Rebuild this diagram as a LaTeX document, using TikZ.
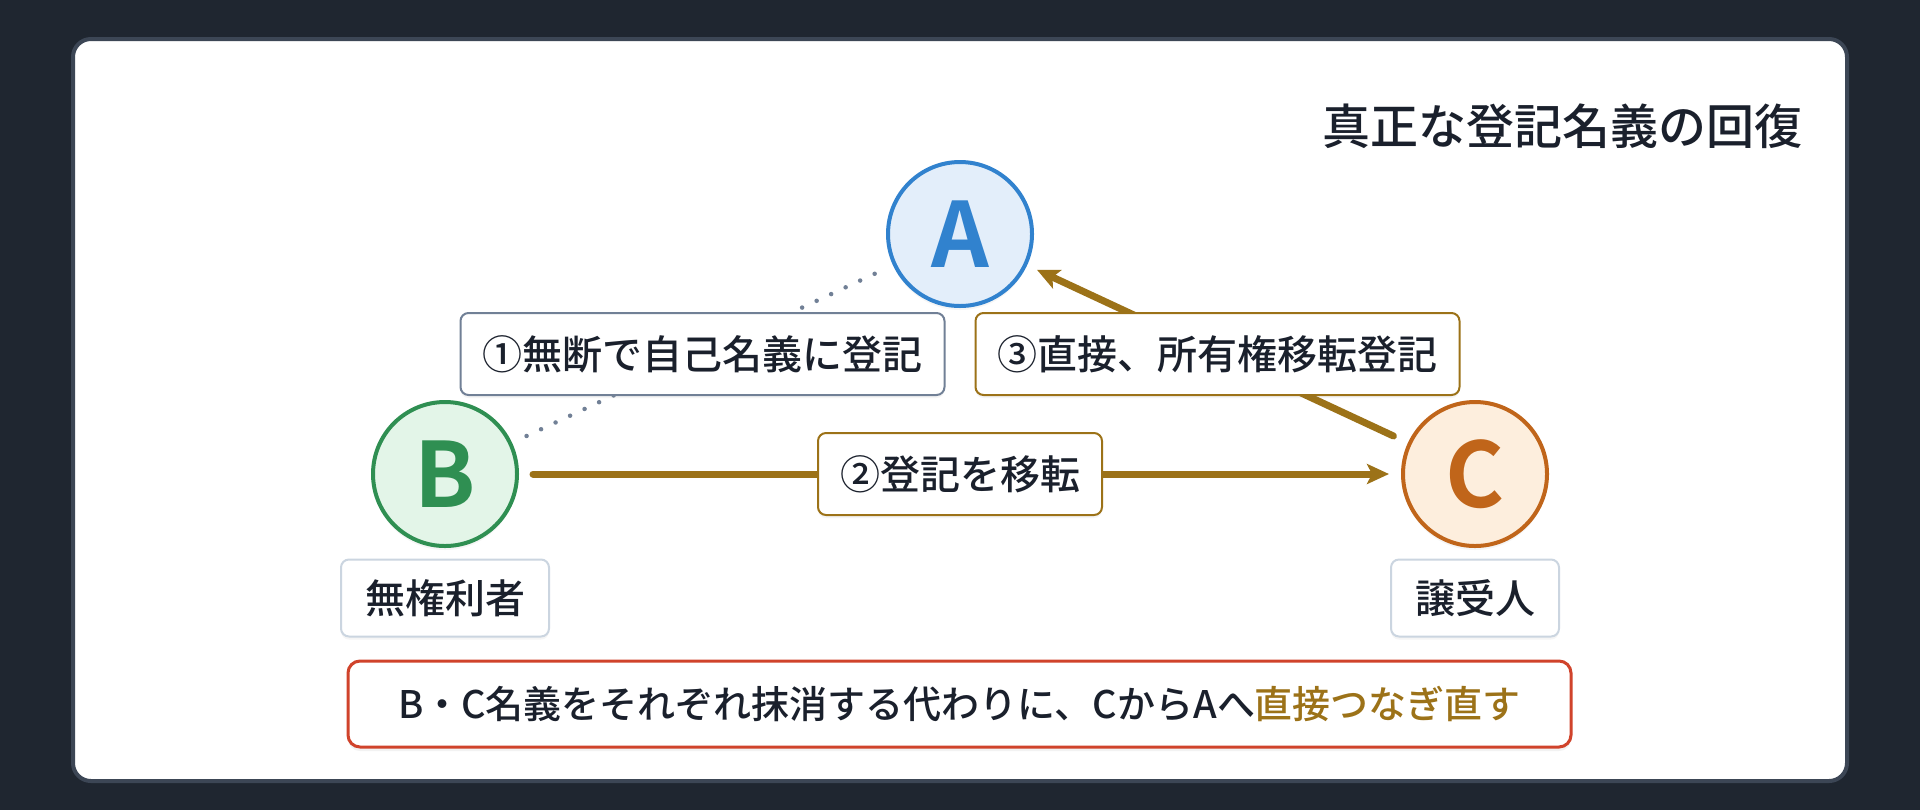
\documentclass[tikz,border=0pt]{standalone}
\usepackage{fontspec}
\setmainfont{Noto Sans CJK JP}[UprightFont=* Medium, BoldFont=* Bold]
\usetikzlibrary{arrows.meta,calc,shadows}

\definecolor{pagebg}{HTML}{1F2630}
\definecolor{cardline}{HTML}{3C4655}
\definecolor{ink}{HTML}{1A202C}
\definecolor{blueA}{HTML}{3182CE}
\definecolor{blueAfill}{HTML}{E3EEFA}
\definecolor{greenB}{HTML}{2F8F52}
\definecolor{greenBfill}{HTML}{E3F5E8}
\definecolor{orangeC}{HTML}{C0651A}
\definecolor{orangeCfill}{HTML}{FDEEDD}
\definecolor{gold}{HTML}{9C7218}
\definecolor{slate}{HTML}{718096}
\definecolor{paleline}{HTML}{CBD5E0}
\definecolor{alertred}{HTML}{D0432B}

\tikzset{
  party/.style={circle, line width=2pt, minimum size=72pt, inner sep=0pt,
    font=\bfseries\fontsize{45}{50}\selectfont,
    drop shadow={opacity=0.08, shadow xshift=0pt, shadow yshift=-2pt}},
  tag/.style={draw, fill=white, rounded corners=4pt, line width=1pt,
    inner xsep=11pt, inner ysep=0pt, minimum height=41pt, text=ink,
    font=\fontsize{20}{24}\selectfont,
    drop shadow={opacity=0.08, shadow xshift=0pt, shadow yshift=-1.5pt}},
  role/.style={tag, draw=paleline, minimum height=38.5pt, inner xsep=12pt},
  summary/.style={draw=alertred, fill=white, rounded corners=6pt, line width=1.5pt,
    minimum width=611.5pt, minimum height=43pt, inner sep=0pt, text=ink,
    font=\fontsize{19}{23}\selectfont,
    drop shadow={opacity=0.1, shadow xshift=0pt, shadow yshift=-2pt}},
  fakeline/.style={slate, line width=2.25pt, line cap=round,
    dash pattern=on 0pt off 8pt, shorten <=8pt, shorten >=8pt},
  transfer/.style={gold, line width=3.5pt, line cap=round,
    -{Stealth[length=11pt, width=10pt, inset=2.5pt]}},
}

\begin{document}
\begin{tikzpicture}[x=0.5pt,y=-0.5pt]

  % page and card
  \fill[pagebg] (0,0) rectangle (1920,810);
  \filldraw[fill=white, draw=cardline, line width=2pt, rounded corners=9pt] (73,39) rectangle (1847,781);

  \node[anchor=east, text=ink, font=\fontsize{24}{28}\selectfont] (title) at (1810,126) {真正な登記名義の回復};

  % the three parties
  \node[party, draw=blueA, fill=blueAfill, text=blueA] (A) at (960,234) {A};
  \node[party, draw=greenB, fill=greenBfill, text=greenB] (B) at (445,474) {B};
  \node[party, draw=orangeC, fill=orangeCfill, text=orangeC] (C) at (1475,474) {C};

  % connectors
  \draw[fakeline] (B) -- (A); % unauthorised registration
  \draw[transfer, shorten <=7pt, shorten >=6pt] (B) -- (C);
  \draw[transfer, shorten <=8pt, shorten >=5.5pt] (C) -- (A);

  % step labels
  \node[tag, draw=slate] (step1) at ($(B)!0.5!(A)$) {①無断で自己名義に登記};
  \node[tag, draw=gold] (step2) at ($(B)!0.5!(C)$) {②登記を移転};
  \node[tag, draw=gold] (step3) at ($(C)!0.5!(A)$) {③直接、所有権移転登記};

  % roles
  \node[role] (roleB) at (445,598) {無権利者};
  \node[role] (roleC) at (1475,598) {譲受人};

  \node[summary] (note) at (959.5,704) {B・C名義をそれぞれ抹消する代わりに、CからAへ\textcolor{gold}{直接つなぎ直す}};

\end{tikzpicture}
\end{document}
